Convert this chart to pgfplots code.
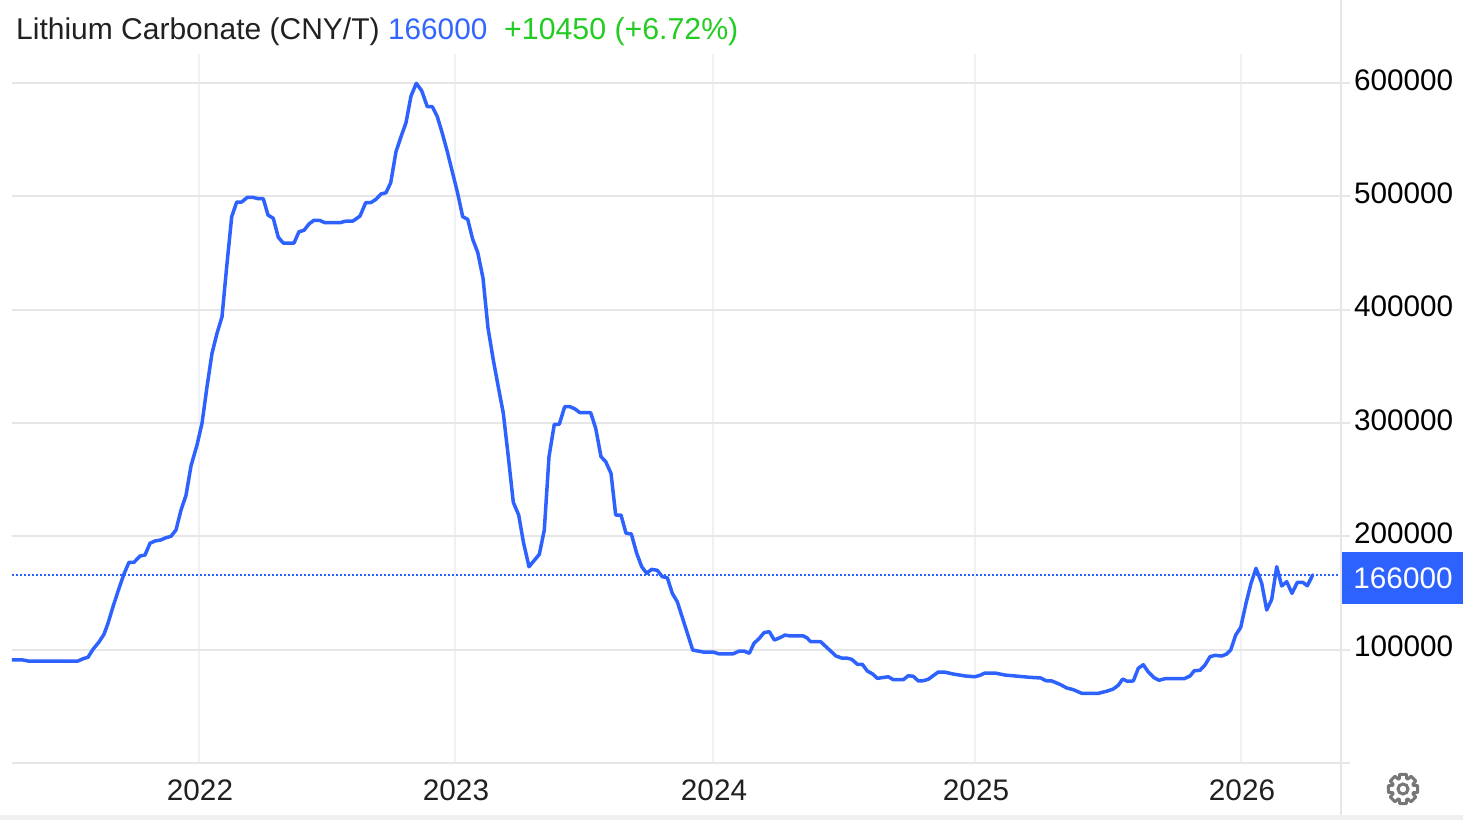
\documentclass[border=0pt]{standalone}
\usepackage{pgfplots}
\pgfplotsset{compat=1.18}
\usepackage{fontspec}
\setmainfont{Liberation Sans}
\definecolor{lineblue}{HTML}{2D62FF}
\definecolor{titleblue}{HTML}{3366FF}
\definecolor{upgreen}{HTML}{22CC22}
\definecolor{gridh}{HTML}{E6E6E6}
\definecolor{gridv}{HTML}{EEF1F5}
\definecolor{txt}{HTML}{212121}
\definecolor{gear}{HTML}{777777}
\newcommand{\lab}{\fontsize{29.7}{32}\selectfont}
\begin{document}
\begin{tikzpicture}[x=1pt,y=1pt]
\path[use as bounding box,fill=white] (0,0) rectangle (1463,820);
\fill[gridh!60] (0,0) rectangle (1463,5);
\draw[gridh,line width=2.4pt] (1341,5) -- (1341,820);
\begin{axis}[
  at={(12pt,57pt)}, anchor=south west,
  scale only axis, width=1326pt, height=709pt,
  xmin=12, xmax=1338, ymin=0, ymax=625600,
  axis x line*=bottom, axis y line*=right,
  x axis line style={-,gridh,line width=2pt},
  y axis line style={draw=none},
  scaled y ticks=false,
  xtick={199,455,713,975,1241},
  xticklabels={2022,2023,2024,2025,2026},
  ytick={0,100000,200000,300000,400000,500000,600000},
  yticklabels={,100000,200000,300000,400000,500000,600000},
  xmajorgrids, ymajorgrids,
  x grid style={gridv,line width=2pt},
  y grid style={gridh,line width=2pt},
  xtick style={draw=none},
  ytick style={gridh,line width=2pt},
  tick align=outside,
  major tick length=12pt,
  xticklabel style={font=\lab,text=txt,yshift=-1pt,xshift=1pt},
  yticklabel style={font=\lab,text=black,anchor=west,xshift=0.5pt,yshift=3pt},
  clip=true,
]
\addplot[lineblue,line width=1.5pt,dash pattern=on 2pt off 2pt,forget plot] coordinates {(12,166000)(1338,166000)};
\addplot[lineblue,line width=3.5pt,line join=round,line cap=round] table {
x y
12 90900
23 90900
28 90000
78 90000
83 92000
88 93300
93 100300
99 106800
104 113600
108 123300
113 137900
119 154100
124 166800
129 177100
134 177100
140 182600
145 183500
150 193900
155 195900
160.7 196800
166 198800
171 200000
176 205600
181 223200
186 236200
191 262100
197 280600
202 299700
207 332000
212 361500
217 379100
222 393800
226.7 437900
231.7 482000
236.7 495000
241.7 495000
247.3 499100
253 499100
258.3 497900
263.3 497900
268 483500
273.3 480600
278.3 463800
283.3 458800
294 458800
299 468800
304 470000
309.3 475900
314 478900
319.3 478900
325 476700
340 476700
345 478000
353 478200
360 482600
365.7 494400
370.7 494400
376 497400
381 502100
386 503200
390.7 512000
396 539400
401 552600
406 565000
411 588500
416.3 599700
421.7 593200
427.3 579100
432.3 579100
437.3 570300
442.3 555600
447.3 539400
452.3 521700
457.3 504100
462.7 482000
467.7 479700
472.7 462100
477.7 450600
483 427900
488 383800
493.3 355600
498.5 330900
503.3 308600
508.3 270300
513.3 230000
518.7 218800
523.3 195300
529 173200
539.3 184100
544.3 205600
549 270300
554.3 298900
559.3 298900
564.7 314400
570 314400
575 312400
580 309100
590.7 309100
595.7 295300
601 270300
605.7 265900
611 255600
615.7 218800
621 218800
626 202700
631.3 202100
636.7 185000
641.7 173200
646.7 167400
651.7 170900
657.3 170000
662.3 164400
667.3 163500
672.3 149700
677.3 142300
692.7 99700
703.3 97900
713.3 97900
718.3 96400
733.3 96400
739.3 98800
744 98800
749.3 96800
754 105600
759.3 110000
764 115000
769.3 115900
774.3 108500
780 110600
785 112900
790 112100
803.3 112100
806.7 110600
810.7 107000
820.7 107000
826 102600
836 94400
841.7 92600
846.7 92600
851.7 91500
857.3 87100
862.3 87100
867.3 81200
872.7 78500
877.3 74700
888.3 76100
893.3 73500
903.3 73500
908.3 77000
913.3 76500
918.3 72400
923.3 72600
928.3 73900
938.3 80300
944 80300
953.3 78500
965 76800
975 76100
980 77400
985 79400
995 79400
1005 77600
1015 76800
1030 75600
1040.7 75000
1046 72600
1051.7 72400
1060 69400
1066.7 66200
1073.3 64700
1081.7 61500
1098.3 61500
1106.7 63300
1113.3 65300
1118.3 68600
1122.7 74100
1127.3 72100
1133.3 72400
1138.3 83600
1143.3 86700
1148.3 80300
1154 75300
1159 73000
1165 74400
1184.3 74400
1190 76800
1194.3 81400
1200 81800
1205 86500
1210 93800
1215 95000
1221.7 94400
1226.7 96200
1230.7 99700
1235.7 112900
1240.7 119700
1246 140900
1251 158600
1256 171800
1261.7 158600
1266.7 135000
1271.7 144400
1276.7 173200
1281.7 156200
1286.7 160000
1292 149700
1297.3 159400
1302.7 159400
1307.3 156400
1312.7 166000
};
\end{axis}
\node[anchor=base west,inner sep=0pt,font=\fontsize{30}{32}\selectfont,text=txt] at (16,780) {Lithium Carbonate (CNY/T)};
\node[anchor=base west,inner sep=0pt,font=\lab,text=titleblue] at (388,780) {166000};
\node[anchor=base west,inner sep=0pt,font=\fontsize{30.3}{32}\selectfont,text=upgreen] at (504,780) {+10450 (+6.72\%)};
\fill[lineblue] (1342,216) rectangle (1463,268);
\node[font=\lab,text=white,inner sep=0pt] at (1403,242) {166000};
\begin{scope}[shift={(1403,31)}]
\draw[gear,line width=3pt,line join=round]
  (-13:15) \foreach \a in {0,45,...,315}{ -- (\a-13:15) -- (\a+13:15) -- (\a+19:11) -- (\a+26:11)} -- cycle;
\draw[gear,line width=3pt] (0,0) circle (5);
\end{scope}
\end{tikzpicture}
\end{document}
